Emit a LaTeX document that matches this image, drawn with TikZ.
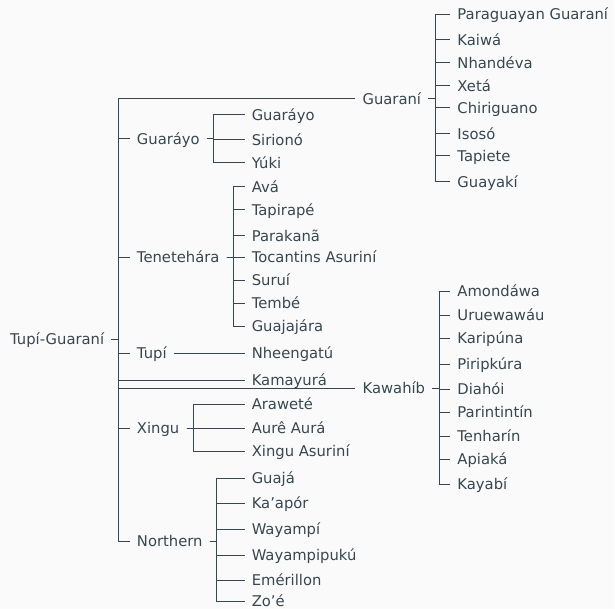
\documentclass[tikz,border=0pt]{standalone}
\usepackage{fontspec}
\setmainfont{DejaVu Sans}

\begin{document}
\begin{tikzpicture}[x=1pt, y=-1pt,
    langNode/.style={anchor=west, inner xsep=7pt, inner ysep=0pt, text height=10.8pt, text depth=0pt,
      text=slate, font=\fontsize{14.8}{17}\selectfont},
    branchLine/.style={draw=slate, line width=0.9pt},
  ]

    % Colors
    \definecolor{slate}{HTML}{37474F}
    \definecolor{paper}{HTML}{FAFAFA}

    %draw the background
    \fill[paper] (0,0) rectangle (615,610);

    %the root
    \node[langNode] (tg) at (3,340) {Tupí-Guaraní};

    %the branches
    \node[langNode] (gni) at (356,99) {Guaraní};
    \node[langNode] (gyo) at (130,139) {Guaráyo};
    \node[langNode] (ten) at (130,258) {Tenetehára};
    \node[langNode] (tup) at (130,354) {Tupí};
    \node[langNode] (kam) at (245,381) {Kamayurá};
    \node[langNode] (kaw) at (356,389) {Kawahíb};
    \node[langNode] (xin) at (130,429) {Xingu};
    \node[langNode] (nor) at (130,542) {Northern};

    \foreach \c in {gni,gyo,ten,tup,kam,kaw,xin,nor}
        \draw[branchLine] (tg.east) -- ++(7,0) |- (\c.west);

    %Guarani languages
    \foreach \i/\y/\txt in {1/14/Paraguayan Guaraní, 2/40/Kaiwá, 3/63/Nhandéva, 4/86/Xetá,
        5/108/Chiriguano, 6/134/Isosó, 7/156/Tapiete, 8/182/Guayakí} {
        \node[langNode] (g\i) at (451,\y) {\txt};
        \draw[branchLine] (gni.east) -- ++(7,0) |- (g\i.west);
    }

    %Guarayo languages
    \foreach \i/\y/\txt in {1/115/Guaráyo, 2/140/Sirionó, 3/163/Yúki} {
        \node[langNode] (y\i) at (245,\y) {\txt};
        \draw[branchLine] (gyo.east) -- ++(7,0) |- (y\i.west);
    }

    %Tenetehara languages
    \foreach \i/\y/\txt in {1/187/Avá, 2/210/Tapirapé, 3/236/Parakanã, 4/258/Tocantins Asuriní,
        5/281/Suruí, 6/304/Tembé, 7/327/Guajajára} {
        \node[langNode] (t\i) at (245,\y) {\txt};
        \draw[branchLine] (ten.east) -- ++(7,0) |- (t\i.west);
    }

    %Tupi
    \node[langNode] (nhe) at (245,354) {Nheengatú};
    \draw[branchLine] (tup.east) -- (nhe.west);

    %Kawahib languages
    \foreach \i/\y/\txt in {1/292/Amondáwa, 2/316/Uruewawáu, 3/339/Karipúna, 4/365/Piripkúra,
        5/390/Diahói, 6/413/Parintintín, 7/437/Tenharín, 8/460/Apiaká, 9/485/Kayabí} {
        \node[langNode] (k\i) at (451,\y) {\txt};
        \draw[branchLine] (kaw.east) -- ++(7,0) |- (k\i.west);
    }

    %Xingu languages
    \foreach \i/\y/\txt in {1/405/Araweté, 2/429/Aurê Aurá, 3/452/Xingu Asuriní} {
        \node[langNode] (x\i) at (245,\y) {\txt};
        \draw[branchLine] (xin.east) -- ++(7,0) |- (x\i.west);
    }

    %Northern languages
    \foreach \i/\y/\txt in {1/479/Guajá, 2/504/Ka’apór, 3/530/Wayampí, 4/556/Wayampipukú,
        5/581/Emérillon, 6/602/Zo’é} {
        \node[langNode] (n\i) at (245,\y) {\txt};
        \draw[branchLine] (nor.east) -- ++(7,0) |- (n\i.west);
    }

\end{tikzpicture}
\end{document}
